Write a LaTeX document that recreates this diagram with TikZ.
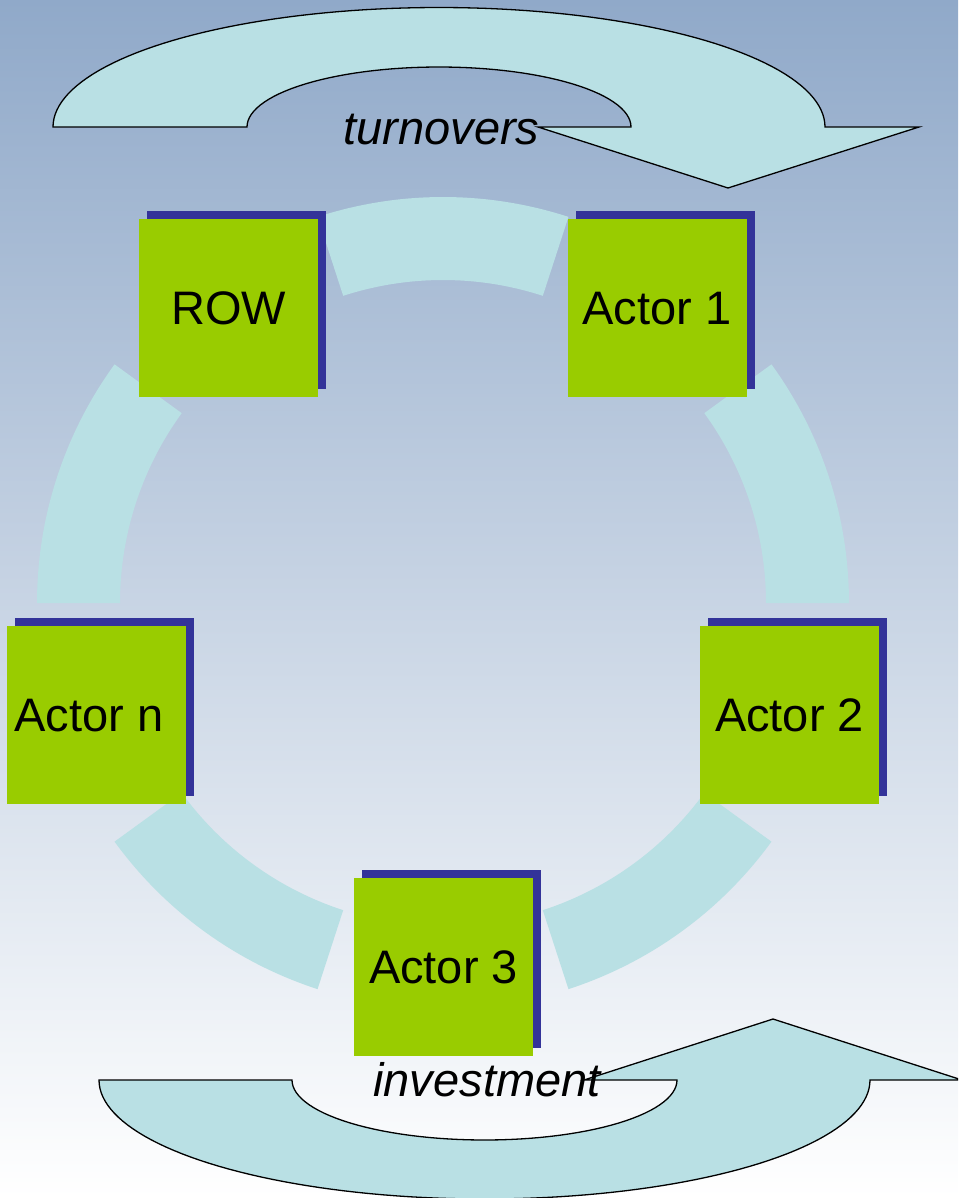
\documentclass[tikz,border=0pt]{standalone}
\usepackage{fontspec}
\setmainfont{Liberation Sans}
\usetikzlibrary{shadows}
\definecolor{bgtop}{RGB}{144,169,201}
\definecolor{bgmid}{RGB}{214,220,230}
\definecolor{ringcyan}{RGB}{185,224,228}
\definecolor{actorgreen}{RGB}{153,204,0}
\definecolor{shadowblue}{RGB}{51,51,153}
\begin{document}
\begin{tikzpicture}[x=1pt,y=-1pt,
  actor/.style={fill=actorgreen, minimum width=179pt, minimum height=178pt,
    inner sep=0pt, text height=33.7pt, text depth=0pt,
    font=\fontsize{47}{56}\selectfont,
    general shadow={fill=shadowblue, shadow xshift=8pt, shadow yshift=8pt}},
  flowband/.style={fill=ringcyan},
  bigarrow/.style={fill=ringcyan, draw=black, line width=1.3pt, line join=miter},
  caption/.style={font=\fontsize{47}{56}\selectfont\itshape, inner sep=0pt, anchor=base}]
\useasboundingbox (0,0) rectangle (958,1198);
\clip (0,0) rectangle (958,1198);
% background gradient
\shade[top color=bgtop, middle color=bgmid, bottom color=white] (0,0) rectangle (958,1198);

% ring segments between the actors (centre 443,603)
\foreach \a/\b in {72/108,0/36,-72/-36,-144/-108,144/180}
  \fill[flowband] plot[domain=\a:\b,samples=40] ({443+406*cos(\x)},{603-406*sin(\x)})
    -- plot[domain=\b:\a,samples=40] ({443+323*cos(\x)},{603-323*sin(\x)}) -- cycle;

% upper curved arrow
\draw[bigarrow] (53,127)
  -- plot[domain=180:0,samples=90] ({439+386*cos(\x)},{127-119.5*sin(\x)})
  -- (919,127) -- (728,188) -- (538,127)
  -- plot[domain=0:180,samples=60] ({439+192*cos(\x)},{127-60*sin(\x)}) -- cycle;

% lower curved arrow
\draw[bigarrow] (99,1080)
  -- plot[domain=180:360,samples=90] ({484.5+385.5*cos(\x)},{1080-119*sin(\x)})
  -- (962,1080) -- (773,1019) -- (584,1080)
  -- plot[domain=360:180,samples=60] ({484.5+192.5*cos(\x)},{1080-60*sin(\x)}) -- cycle;

% actors
\node[actor] (row) at (228.5,308) {ROW};
\node[actor] (actor1) at (657,308) {Actor 1};
\node[actor] (actor2) at (789.5,715) {Actor 2};
\node[actor] (actor3) at (443.5,967) {Actor 3};
\node[actor] (actorn) at (96.5,715) {Actor n\kern15pt};

% flow labels
\node[caption] (turnovers) at (441.5,145) {turnovers};
\node[caption] (investment) at (487,1096) {investment};
\end{tikzpicture}
\end{document}
